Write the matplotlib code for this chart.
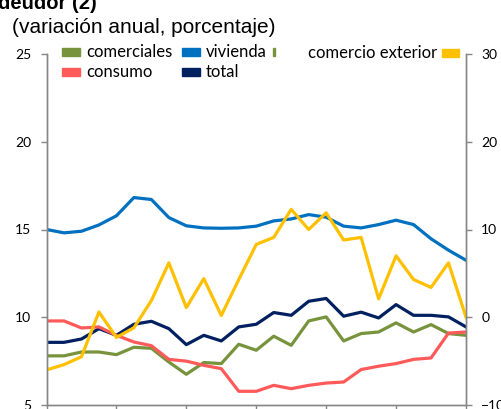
import matplotlib.pyplot as plt
from matplotlib.patches import Rectangle

# quarterly points, 6 years
quarters = list(range(25))

comerciales = [7.80, 7.80, 8.02, 8.02, 7.87, 8.29, 8.23, 7.45, 6.75, 7.42, 7.36, 8.46, 8.12,
               8.92, 8.40, 9.79, 10.02, 8.65, 9.07, 9.16, 9.68, 9.16, 9.58, 9.07, 8.97]
vivienda = [15.00, 14.81, 14.90, 15.26, 15.78, 16.82, 16.71, 15.68, 15.21, 15.09, 15.07, 15.09, 15.19,
            15.49, 15.60, 15.85, 15.70, 15.19, 15.09, 15.28, 15.53, 15.28, 14.47, 13.82, 13.25]
consumo = [9.79, 9.79, 9.39, 9.45, 8.97, 8.59, 8.38, 7.60, 7.50, 7.26, 7.07, 5.78, 5.78,
           6.12, 5.93, 6.12, 6.25, 6.31, 7.02, 7.21, 7.36, 7.60, 7.68, 9.10, 9.16]
total = [8.57, 8.57, 8.76, 9.35, 8.97, 9.60, 9.77, 9.35, 8.44, 8.97, 8.65, 9.45, 9.60,
         10.27, 10.11, 10.91, 11.07, 10.06, 10.29, 9.96, 10.72, 10.11, 10.11, 10.02, 9.45]
# right axis
comercio_exterior = [-6.0, -5.4, -4.5, 0.6, -2.3, -1.2, 1.9, 6.2, 1.1, 4.4, 0.2, 4.3, 8.3,
                     9.1, 12.3, 10.0, 11.9, 8.8, 9.1, 2.1, 7.0, 4.3, 3.4, 6.2, 0.0]

left_ticks = [5, 10, 15, 20, 25]
right_ticks = [-10, 0, 10, 20, 30]

c_green = "#77933C"
c_blue = "#0070C0"
c_red = "#FF5A5A"
c_navy = "#002060"
c_yellow = "#FFC000"
c_axis = "#868686"

W, H = 501, 409
fig = plt.figure(figsize=(W / 100, H / 100), dpi=100)
ax = fig.add_axes([46.5 / W, (H - 405) / H, (466 - 46.5) / W, (405 - 54) / H])
ax2 = ax.twinx()

lw = 2.3
ax.plot(quarters, comerciales, color=c_green, lw=lw)
ax.plot(quarters, vivienda, color=c_blue, lw=lw)
ax.plot(quarters, total, color=c_navy, lw=lw)
ax.plot(quarters, consumo, color=c_red, lw=lw)
ax2.plot(quarters, comercio_exterior, color=c_yellow, lw=lw)

ax.set_xlim(0, 24)
ax.set_ylim(5, 25)
ax2.set_ylim(-10, 30)
ax.set_yticks(left_ticks)
ax2.set_yticks(right_ticks)
ax.set_xticks(range(0, 25, 4))
ax.set_xticklabels([])

for a in (ax, ax2):
    for s in a.spines.values():
        s.set_color(c_axis)
        s.set_linewidth(1.0)
    a.spines["top"].set_visible(False)
    a.tick_params(colors=c_axis, length=4, width=1.0, pad=7, labelcolor="black")
for lab in ax.get_yticklabels() + ax2.get_yticklabels():
    lab.set_fontfamily("Lato")
    lab.set_fontsize(10)

# title lines (top one is cut by the frame in the original)
fig.text(-2 / W, 1 - 9 / H, "deudor (2)", fontsize=14.5, fontweight="bold",
         family="Liberation Sans", va="baseline", ha="left")
fig.text(12 / W, 1 - 33 / H, "(variación anual, porcentaje)", fontsize=15,
         family="Liberation Sans", va="baseline", ha="left")

# legend entries, Excel style
def legend_item(x, y, color, label):
    fig.patches.append(Rectangle((x / W, 1 - (y + 4) / H), 18 / W, 8 / H,
                                 transform=fig.transFigure, color=color))
    fig.text((x + 24) / W, 1 - y / H, label, fontsize=12, family="Lato",
             va="center", ha="left")

legend_item(62, 52, c_green, "comerciales")
legend_item(182, 52, c_blue, "vivienda")
legend_item(62, 72, c_red, "consumo")
legend_item(182, 72, c_navy, "total")
fig.patches.append(Rectangle((273 / W, 1 - 56 / H), 2 / W, 8 / H,
                             transform=fig.transFigure, color=c_green))
fig.patches.append(Rectangle((442 / W, 1 - 57 / H), 17 / W, 8 / H,
                             transform=fig.transFigure, color=c_yellow))
fig.text(437 / W, 1 - 53 / H, "comercio exterior", fontsize=12, family="Lato",
         va="center", ha="right")

fig.savefig("out.png", dpi=100)
